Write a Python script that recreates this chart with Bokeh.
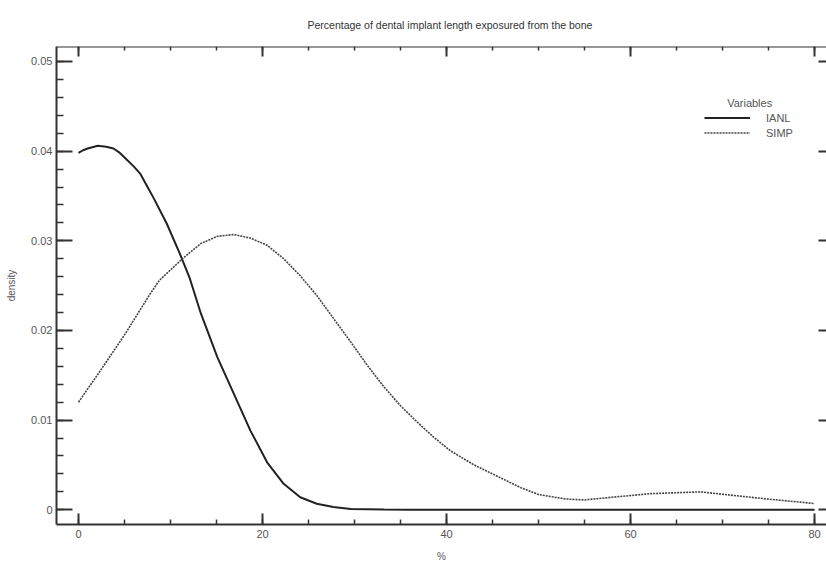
from bokeh.plotting import figure
from bokeh.models import (LinearAxis, SingleIntervalTicker, NumeralTickFormatter,
                          Legend, LegendItem, Label, Range1d, ColumnDataSource)
from bokeh.embed import file_html
from bokeh.resources import INLINE

# ---- data ----
ianl_x = [0, 0.5, 1, 2.1, 3.0, 3.8, 4.5, 5.2, 6.0, 6.7, 7.4, 8.1, 9.6, 11.0, 12.1,
          13.3, 15.1, 16.9, 18.7, 20.5, 22.3, 24.1, 25.9, 27.7, 29.6, 33.2, 36, 80]
ianl_y = [0.0398, 0.0401, 0.0403, 0.0406, 0.0405, 0.0403, 0.0398, 0.0391, 0.0383,
          0.0375, 0.0362, 0.0349, 0.0319, 0.0286, 0.0258, 0.0219, 0.0170, 0.0129,
          0.0088, 0.0053, 0.0029, 0.0014, 0.00067, 0.0003, 0.0001, 0.00002, 0.0,
          0.0]

simp_x = [0, 2.5, 5.0, 7.8, 8.8, 11.3, 13.3, 15.1, 16.9, 18.7, 20.5, 22.3, 24.1,
          25.9, 27.75, 29.6, 31.4, 33.2, 35.0, 36.8, 38.6, 40.4, 43, 45, 48, 50,
          53, 55, 58, 62.2, 67.6, 71.2, 74.9, 80]
simp_y = [0.0120, 0.0157, 0.0195, 0.0241, 0.0256, 0.0280, 0.0297, 0.0305, 0.0307,
          0.0303, 0.0295, 0.0280, 0.0261, 0.0239, 0.0213, 0.0187, 0.0161, 0.0137,
          0.0116, 0.0098, 0.0081, 0.0066, 0.0050, 0.0040, 0.0025, 0.0017, 0.0012,
          0.0011, 0.0014, 0.0018, 0.0020, 0.0016, 0.0012, 0.0007]

series_names = ["IANL", "SIMP"]
title_text = "Percentage of dental implant length exposured from the bone"
x_label = "%"
y_label = "density"
legend_title = "Variables"

FONT = "Liberation Sans"
AXIS_COL = "#333333"
TEXT_COL = "#555555"

X0, X1 = -2.391, 81.30
Y0, Y1 = -0.00164, 0.05167

p = figure(width=826, height=564, output_backend="svg", toolbar_location=None,
           x_range=Range1d(X0, X1), y_range=Range1d(Y0, Y1),
           min_border_left=56, min_border_right=0, min_border_top=46,
           min_border_bottom=40)
p.outline_line_color = None
p.xgrid.visible = False
p.ygrid.visible = False
p.background_fill_color = "white"

# title
p.title.text = title_text
p.title.align = "left"
p.title.offset = 251
p.title.text_font = FONT
p.title.text_font_size = "10.5px"
p.title.text_font_style = "normal"
p.title.text_color = "#333333"
p.title.standoff = 32

xt = SingleIntervalTicker(interval=20, num_minor_ticks=4)
yt = SingleIntervalTicker(interval=0.01, num_minor_ticks=5)

# bottom axis
xa = p.xaxis[0]
xa.ticker = xt
xa.axis_label = x_label
xa.major_tick_in = 11
xa.major_tick_out = 0
xa.minor_tick_in = 5
xa.minor_tick_out = 0
xa.major_label_standoff = 5
xa.axis_label_standoff = 10

# left axis
ya = p.yaxis[0]
ya.ticker = yt
ya.formatter = NumeralTickFormatter(format="0.[00]")
ya.axis_label = y_label
ya.major_tick_in = 16
ya.major_tick_out = 0
ya.minor_tick_in = 7
ya.minor_tick_out = 0
ya.major_label_standoff = 4
ya.axis_label_standoff = 11

for ax in [xa, ya]:
    ax.axis_line_color = AXIS_COL
    ax.axis_line_width = 2
    ax.major_tick_line_color = AXIS_COL
    ax.major_tick_line_width = 2
    ax.minor_tick_line_color = AXIS_COL
    ax.minor_tick_line_width = 1.5
    ax.major_label_text_font = FONT
    ax.major_label_text_font_size = "11px"
    ax.major_label_text_color = TEXT_COL
    ax.axis_label_text_font = FONT
    ax.axis_label_text_font_size = "10px"
    ax.axis_label_text_font_style = "normal"
    ax.axis_label_text_color = TEXT_COL

# top axis (ticks only, drawn at the frame's top edge, takes no border space)
ta = LinearAxis(ticker=SingleIntervalTicker(interval=20, num_minor_ticks=4),
                fixed_location=Y1)
ta.major_tick_in = 10
ta.major_tick_out = 0
ta.minor_tick_in = 4
ta.minor_tick_out = 0
ta.major_label_text_color = None
ta.axis_line_color = AXIS_COL
ta.axis_line_width = 2
ta.major_tick_line_color = AXIS_COL
ta.major_tick_line_width = 2
ta.minor_tick_line_color = AXIS_COL
ta.minor_tick_line_width = 1.5
p.add_layout(ta, "above")

# right axis (major ticks only; its line lies at the image edge)
ra = LinearAxis(ticker=SingleIntervalTicker(interval=0.01, num_minor_ticks=0),
                fixed_location=X1)
ra.major_tick_in = 8
ra.major_tick_out = 0
ra.minor_tick_in = 0
ra.minor_tick_out = 0
ra.major_label_text_color = None
ra.axis_line_color = None
ra.major_tick_line_color = AXIS_COL
ra.major_tick_line_width = 2
p.add_layout(ra, "right")

src1 = ColumnDataSource(dict(x=ianl_x, y=ianl_y))
src2 = ColumnDataSource(dict(x=simp_x, y=simp_y))
r1 = p.line("x", "y", source=src1, line_color="#222222", line_width=2)
r2 = p.line("x", "y", source=src2, line_color="#444444", line_width=1.6,
            line_dash="2 1")

legend = Legend(items=[LegendItem(label=series_names[0], renderers=[r1]),
                       LegendItem(label=series_names[1], renderers=[r2])],
                location=(648, 384), padding=0, margin=0, spacing=0,
                glyph_width=46, glyph_height=15, label_height=15,
                label_standoff=16, border_line_color=None,
                background_fill_alpha=0, label_text_font=FONT,
                label_text_font_size="11px", label_text_color=TEXT_COL)
p.add_layout(legend)

p.add_layout(Label(x=70.5, y=0.04532, text=legend_title, text_font=FONT,
                   text_font_size="11px", text_color=TEXT_COL,
                   text_baseline="alphabetic"))

open("out.html", "w").write(file_html(p, INLINE))
